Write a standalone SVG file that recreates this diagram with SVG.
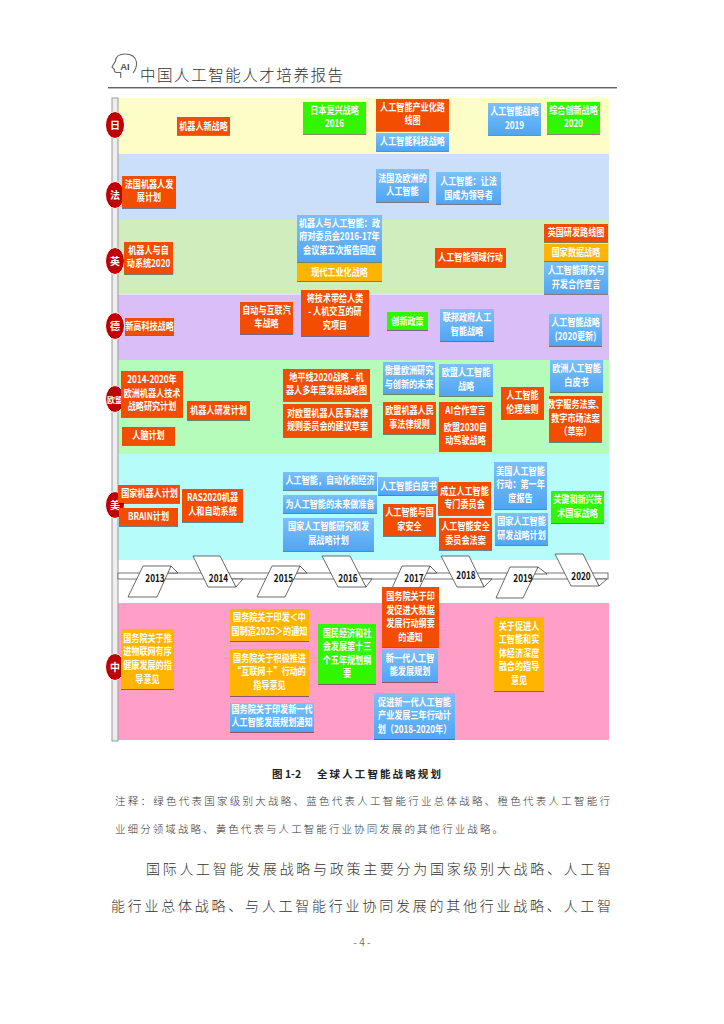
<svg xmlns="http://www.w3.org/2000/svg" width="724" height="1024" viewBox="0 0 724 1024">
<style>
text{font-family:"Noto Sans CJK SC","Noto Sans",sans-serif}
.o{fill:#F24E00}.g{fill:#33F500}.y{fill:#FFB500}.l{fill:url(#blue)}
.o,.g,.y,.l{filter:url(#s)}
.t{fill:#fff;font-size:10.400px;font-weight:700;text-anchor:middle}
.c{fill:#C00000;stroke:#fff;stroke-width:1}
.ct{fill:#fff;font-size:10px;font-weight:700;text-anchor:middle}
.p{fill:#fff;stroke:#444;stroke-width:.8}
.yr{fill:#111;font-size:10.500px;font-weight:700;text-anchor:middle}
.k{fill:#333;font-weight:300}
</style>
<defs>
<linearGradient id="blue" x1="0" y1="0" x2="0" y2="1"><stop offset="0" stop-color="#7CC0F8"/><stop offset="1" stop-color="#50A5F4"/></linearGradient>
<filter id="s" x="-10%" y="-10%" width="120%" height="130%"><feDropShadow dx="0" dy="1" stdDeviation=".6" flood-color="#000" flood-opacity=".45"/></filter>
</defs>
<rect width="724" height="1024" fill="#fff"/>

<g id="header">
<path d="M120.700 78V72.500H116Q113.500 71 114.500 69.500L112 67L115.500 61Q116 54 125 54Q135 54 136.500 62Q137 68 133 73" fill="none" stroke="#666" stroke-width="1.100"/>
<text x="125" y="69.500" font-size="9.500" font-weight="700" fill="#555" text-anchor="middle" style="font-family:'Liberation Sans',sans-serif">AI</text>
<text class="k" x="140" y="81" font-size="15.500" textLength="203">中国人工智能人才培养报告</text>
<rect x="108" y="87.300" width="509" height="1" fill="#222"/>
</g>

<g id="bands">
<rect x="118" y="98" width="491" height="56" fill="#FDFDC8"/>
<rect x="118" y="154" width="491" height="66" fill="#CCDFFA"/>
<rect x="118" y="220" width="491" height="74" fill="#CFEDBD"/>
<rect x="118" y="294.500" width="491" height="65.500" fill="#D9BEF8"/>
<rect x="118" y="360" width="491" height="94" fill="#B5FBB9"/>
<rect x="118" y="454" width="491" height="106" fill="#B5FCFA"/>
<rect x="118" y="603" width="491" height="137" fill="#FF9EC7"/>
<rect x="112" y="98" width="6" height="643" fill="#EEE" stroke="#999" stroke-width="1"/>
</g>

<g id="timeline">
<rect x="118" y="573" width="490" height="6" fill="#fff" stroke="#555" stroke-width=".8"/>
<g id="y2013"><path class="p" d="M171 566L178 573H165Z"/><path class="p" d="M143 566H171L157 597H128Z"/><text class="yr" transform="matrix(.78 0 0 1 155 582)">2013</text></g>
<g id="y2014"><path class="p" d="M236 587L243 579H231Z"/><path class="p" d="M193 556H220L236 587H208Z"/><text class="yr" transform="matrix(.78 0 0 1 218.500 582)">2014</text></g>
<g id="y2015"><path class="p" d="M300 566L307 573H294Z"/><path class="p" d="M272 566H300L285 597H257Z"/><text class="yr" transform="matrix(.78 0 0 1 283.500 582)">2015</text></g>
<g id="y2016"><path class="p" d="M366 587L372 579H361Z"/><path class="p" d="M322 556H350L366 587H338Z"/><text class="yr" transform="matrix(.78 0 0 1 348 582)">2016</text></g>
<g id="y2017"><path class="p" d="M430 566L437 573H424Z"/><path class="p" d="M402 566H430L415 597H388Z"/><text class="yr" transform="matrix(.78 0 0 1 414 582)">2017</text></g>
<g id="y2018"><path class="p" d="M484 587L492 579H480Z"/><path class="p" d="M441 556H469L484 587H457Z"/><text class="yr" transform="matrix(.78 0 0 1 466 579)">2018</text></g>
<g id="y2019"><path class="p" d="M538 567L547 574H533Z"/><path class="p" d="M510 567H538L523 598H496Z"/><text class="yr" transform="matrix(.78 0 0 1 523 582)">2019</text></g>
<g id="y2020"><path class="p" d="M599 586L607 579H595Z"/><path class="p" d="M555 554H583L599 586H571Z"/><text class="yr" transform="matrix(.78 0 0 1 581 580)">2020</text></g>
</g>

<g id="country-labels">
<g id="c-jp"><ellipse class="c" cx="115" cy="125" rx="9.500" ry="13.500"/><text class="ct" x="115" y="129">日</text></g>
<g id="c-fr"><ellipse class="c" cx="115" cy="195" rx="9.500" ry="13.500"/><text class="ct" x="115" y="199">法</text></g>
<g id="c-uk"><ellipse class="c" cx="115" cy="261" rx="9.500" ry="13.500"/><text class="ct" x="115" y="265">英</text></g>
<g id="c-de"><ellipse class="c" cx="115" cy="326" rx="9.500" ry="13.500"/><text class="ct" x="115" y="330">德</text></g>
<g id="c-eu"><ellipse class="c" cx="115" cy="399" rx="9.500" ry="13.500"/><text class="ct" x="115" y="403" style="font-size:8px">欧盟</text></g>
<g id="c-us"><ellipse class="c" cx="115" cy="505" rx="9.500" ry="13.500"/><text class="ct" x="115" y="509">美</text></g>
<g id="c-cn"><ellipse class="c" cx="115" cy="667" rx="9.500" ry="13.500"/><text class="ct" x="115" y="671">中</text></g>
</g>

<g id="n-jp">
<g id="jp1"><rect class="o" x="177" y="117" width="53" height="18"/><text class="t" transform="matrix(.78 0 0 1 203.500 0)"><tspan x="0" y="129.700">机器人新战略</tspan></text></g>
<g id="jp2"><rect class="g" x="303" y="102" width="63" height="32"/><text class="t" transform="matrix(.78 0 0 1 334.500 0)"><tspan x="0" y="114">日本复兴战略</tspan><tspan x="0" y="127.500">2016</tspan></text></g>
<g id="jp3"><rect class="o" x="376" y="99" width="73" height="32"/><text class="t" transform="matrix(.78 0 0 1 412.500 0)"><tspan x="0" y="111">人工智能产业化路</tspan><tspan x="0" y="124.500">线图</tspan></text></g>
<g id="jp4"><rect class="l" x="376" y="133" width="73" height="18"/><text class="t" transform="matrix(.78 0 0 1 412.500 0)"><tspan x="0" y="145.500">人工智能科技战略</tspan></text></g>
<g id="jp5"><rect class="l" x="488" y="103" width="53" height="32"/><text class="t" transform="matrix(.78 0 0 1 514.500 0)"><tspan x="0" y="115">人工智能战略</tspan><tspan x="0" y="129">2019</tspan></text></g>
<g id="jp6"><rect class="g" x="547" y="102" width="53" height="32"/><text class="t" transform="matrix(.78 0 0 1 573.500 0)"><tspan x="0" y="114">综合创新战略</tspan><tspan x="0" y="127.500">2020</tspan></text></g>
</g>

<g id="n-fr">
<g id="fr1"><rect class="o" x="122" y="176" width="54" height="32"/><text class="t" transform="matrix(.78 0 0 1 149 0)"><tspan x="0" y="188">法国机器人发</tspan><tspan x="0" y="201.500">展计划</tspan></text></g>
<g id="fr2"><rect class="l" x="376" y="169" width="53" height="33"/><text class="t" transform="matrix(.78 0 0 1 402.500 0)"><tspan x="0" y="182">法国及欧洲的</tspan><tspan x="0" y="195.500">人工智能</tspan></text></g>
<g id="fr3"><rect class="l" x="436" y="172" width="65" height="32"/><text class="t" transform="matrix(.78 0 0 1 468.500 0)"><tspan x="0" y="185">人工智能：让法</tspan><tspan x="0" y="199">国成为领导者</tspan></text></g>
</g>

<g id="n-uk">
<g id="uk1"><rect class="o" x="124" y="242" width="49" height="32"/><text class="t" transform="matrix(.78 0 0 1 148.500 0)"><tspan x="0" y="254">机器人与自</tspan><tspan x="0" y="267.500">动系统2020</tspan></text></g>
<g id="uk2"><rect class="l" x="297" y="215" width="85" height="47"/><text class="t" transform="matrix(.78 0 0 1 339.500 0)"><tspan x="0" y="227">机器人与人工智能：政</tspan><tspan x="0" y="240.500">府对委员会2016-17年</tspan><tspan x="0" y="254">会议第五次报告回应</tspan></text></g>
<g id="uk3"><rect class="y" x="297" y="263" width="85" height="18"/><text class="t" transform="matrix(.78 0 0 1 339.500 0)"><tspan x="0" y="275.700">现代工业化战略</tspan></text></g>
<g id="uk4"><rect class="o" x="435" y="248" width="71" height="19"/><text class="t" transform="matrix(.78 0 0 1 470.500 0)"><tspan x="0" y="261">人工智能领域行动</tspan></text></g>
<g id="uk5"><rect class="o" x="544" y="224" width="64" height="18"/><text class="t" transform="matrix(.78 0 0 1 576 0)"><tspan x="0" y="236.500">英国研发路线图</tspan></text></g>
<g id="uk6"><rect class="y" x="544" y="244" width="64" height="17"/><text class="t" transform="matrix(.78 0 0 1 576 0)"><tspan x="0" y="256.500">国家数据战略</tspan></text></g>
<g id="uk7"><rect class="l" x="544" y="262" width="64" height="32"/><text class="t" transform="matrix(.78 0 0 1 576 0)"><tspan x="0" y="274.500">人工智能研究与</tspan><tspan x="0" y="288">开发合作宣言</tspan></text></g>
</g>

<g id="n-de">
<g id="de1"><rect class="o" x="125" y="318" width="49" height="17"/><text class="t" transform="matrix(.78 0 0 1 149.500 0)"><tspan x="0" y="330.200">新高科技战略</tspan></text></g>
<g id="de2"><rect class="o" x="240" y="302" width="53" height="32"/><text class="t" transform="matrix(.78 0 0 1 266.500 0)"><tspan x="0" y="314">自动与互联汽</tspan><tspan x="0" y="327.500">车战略</tspan></text></g>
<g id="de3"><rect class="o" x="301" y="290" width="68" height="46"/><text class="t" transform="matrix(.78 0 0 1 335 0)"><tspan x="0" y="302">将技术带给人类</tspan><tspan x="0" y="315.500">- 人机交互的研</tspan><tspan x="0" y="329">究项目</tspan></text></g>
<g id="de4"><rect class="g" x="387" y="312" width="41" height="18"/><text class="t" transform="matrix(.78 0 0 1 407.500 0)"><tspan x="0" y="324.700">创新政策</tspan></text></g>
<g id="de5"><rect class="l" x="440" y="309" width="54" height="32"/><text class="t" transform="matrix(.78 0 0 1 467 0)"><tspan x="0" y="321.500">联邦政府人工</tspan><tspan x="0" y="335">智能战略</tspan></text></g>
<g id="de6"><rect class="l" x="549" y="314" width="53" height="32"/><text class="t" transform="matrix(.78 0 0 1 575.500 0)"><tspan x="0" y="326.500">人工智能战略</tspan><tspan x="0" y="340">(2020更新)</tspan></text></g>
</g>

<g id="n-eu">
<g id="eu1"><rect class="o" x="121" y="371" width="62" height="46"/><text class="t" transform="matrix(.78 0 0 1 152 0)"><tspan x="0" y="383">2014-2020年</tspan><tspan x="0" y="397">欧洲机器人技术</tspan><tspan x="0" y="410.500">战略研究计划</tspan></text></g>
<g id="eu2"><rect class="o" x="122" y="427" width="53" height="18"/><text class="t" transform="matrix(.78 0 0 1 148.500 0)"><tspan x="0" y="439.500">人脑计划</tspan></text></g>
<g id="eu3"><rect class="o" x="187" y="401" width="63" height="19"/><text class="t" transform="matrix(.78 0 0 1 218.500 0)"><tspan x="0" y="414">机器人研发计划</tspan></text></g>
<g id="eu4"><rect class="o" x="283" y="369" width="87" height="32"/><text class="t" transform="matrix(.78 0 0 1 326.500 0)"><tspan x="0" y="381">地平线2020战略 - 机</tspan><tspan x="0" y="394.500">器人多年度发展战略图</tspan></text></g>
<g id="eu5"><rect class="o" x="283" y="404" width="89" height="33"/><text class="t" transform="matrix(.78 0 0 1 327.500 0)"><tspan x="0" y="417">对欧盟机器人民事法律</tspan><tspan x="0" y="430.500">规则委员会的建议草案</tspan></text></g>
<g id="eu6"><rect class="l" x="383" y="362" width="52" height="32"/><text class="t" transform="matrix(.78 0 0 1 409 0)"><tspan x="0" y="374.500">衡量欧洲研究</tspan><tspan x="0" y="388">与创新的未来</tspan></text></g>
<g id="eu7"><rect class="l" x="439" y="364" width="54" height="32"/><text class="t" transform="matrix(.78 0 0 1 466 0)"><tspan x="0" y="376.500">欧盟人工智能</tspan><tspan x="0" y="390">战略</tspan></text></g>
<g id="eu8"><rect class="o" x="383" y="402" width="53" height="32"/><text class="t" transform="matrix(.78 0 0 1 409.500 0)"><tspan x="0" y="414.500">欧盟机器人民</tspan><tspan x="0" y="428">事法律规则</tspan></text></g>
<g id="eu9"><rect class="o" x="439" y="402" width="53" height="18"/><text class="t" transform="matrix(.78 0 0 1 465.500 0)"><tspan x="0" y="414">AI合作宣言</tspan></text></g>
<g id="eu10"><rect class="o" x="439" y="418" width="53" height="33"/><text class="t" transform="matrix(.78 0 0 1 465.500 0)"><tspan x="0" y="431">欧盟2030自</tspan><tspan x="0" y="444.500">动驾驶战略</tspan></text></g>
<g id="eu11"><rect class="o" x="501" y="387" width="43" height="32"/><text class="t" transform="matrix(.78 0 0 1 522.500 0)"><tspan x="0" y="399.500">人工智能</tspan><tspan x="0" y="413">伦理准则</tspan></text></g>
<g id="eu12"><rect class="l" x="550" y="360" width="53" height="32"/><text class="t" transform="matrix(.78 0 0 1 576.500 0)"><tspan x="0" y="372.500">欧洲人工智能</tspan><tspan x="0" y="386">白皮书</tspan></text></g>
<g id="eu13"><rect class="o" x="549" y="396" width="53" height="46"/><text class="t" transform="matrix(.78 0 0 1 575.500 0)"><tspan x="0" y="408.500">数字服务法案、</tspan><tspan x="0" y="422">数字市场法案</tspan><tspan x="0" y="435.500">（草案）</tspan></text></g>
</g>

<g id="n-us">
<g id="us1"><rect class="o" x="118" y="485" width="62" height="18"/><text class="t" transform="matrix(.78 0 0 1 149.500 0)"><tspan x="0" y="497.500">国家机器人计划</tspan></text></g>
<g id="us2"><rect class="o" x="119" y="508" width="59" height="18"/><text class="t" transform="matrix(.78 0 0 1 148.500 0)"><tspan x="0" y="520.500">BRAIN计划</tspan></text></g>
<g id="us3"><rect class="o" x="182" y="489" width="61" height="33"/><text class="t" transform="matrix(.78 0 0 1 212.500 0)"><tspan x="0" y="501.500">RAS2020机器</tspan><tspan x="0" y="515">人和自助系统</tspan></text></g>
<g id="us4"><rect class="l" x="283" y="472" width="94" height="18"/><text class="t" transform="matrix(.78 0 0 1 330 0)"><tspan x="0" y="484.500">人工智能，自动化和经济</tspan></text></g>
<g id="us5"><rect class="l" x="283" y="495" width="94" height="18"/><text class="t" transform="matrix(.78 0 0 1 330 0)"><tspan x="0" y="507.700">为人工智能的未来做准备</tspan></text></g>
<g id="us6"><rect class="l" x="283" y="518" width="91" height="33"/><text class="t" transform="matrix(.78 0 0 1 328.500 0)"><tspan x="0" y="530.500">国家人工智能研究和发</tspan><tspan x="0" y="544">展战略计划</tspan></text></g>
<g id="us7"><rect class="l" x="378" y="477" width="61" height="18"/><text class="t" transform="matrix(.78 0 0 1 408.500 0)"><tspan x="0" y="490">人工智能白皮书</tspan></text></g>
<g id="us8"><rect class="o" x="383" y="504" width="53" height="32"/><text class="t" transform="matrix(.78 0 0 1 409.500 0)"><tspan x="0" y="516.500">人工智能与国</tspan><tspan x="0" y="530">家安全</tspan></text></g>
<g id="us9"><rect class="o" x="438" y="482" width="53" height="33"/><text class="t" transform="matrix(.78 0 0 1 464.500 0)"><tspan x="0" y="495">成立人工智能</tspan><tspan x="0" y="508.500">专门委员会</tspan></text></g>
<g id="us10"><rect class="o" x="439" y="518" width="53" height="32"/><text class="t" transform="matrix(.78 0 0 1 465.500 0)"><tspan x="0" y="530.500">人工智能安全</tspan><tspan x="0" y="544">委员会法案</tspan></text></g>
<g id="us11"><rect class="l" x="494" y="462" width="53" height="47"/><text class="t" transform="matrix(.78 0 0 1 520.500 0)"><tspan x="0" y="475">美国人工智能</tspan><tspan x="0" y="488.500">行动：第一年</tspan><tspan x="0" y="502">度报告</tspan></text></g>
<g id="us12"><rect class="l" x="495" y="513" width="53" height="32"/><text class="t" transform="matrix(.78 0 0 1 521.500 0)"><tspan x="0" y="525.500">国家人工智能</tspan><tspan x="0" y="539">研发战略计划</tspan></text></g>
<g id="us13"><rect class="g" x="551" y="491" width="53" height="32"/><text class="t" transform="matrix(.78 0 0 1 577.500 0)"><tspan x="0" y="503.500">关键和新兴技</tspan><tspan x="0" y="517">术国家战略</tspan></text></g>
</g>

<g id="n-cn">
<g id="cn1"><rect class="y" x="121" y="629" width="53" height="60"/><text class="t" transform="matrix(.78 0 0 1 147.500 0)"><tspan x="0" y="642">国务院关于推</tspan><tspan x="0" y="655.500">进物联网有序</tspan><tspan x="0" y="669">健康发展的指</tspan><tspan x="0" y="682.500">导意见</tspan></text></g>
<g id="cn2"><rect class="y" x="230" y="609" width="79" height="32"/><text class="t" transform="matrix(.78 0 0 1 269.500 0)"><tspan x="0" y="621.500">国务院关于印发＜中</tspan><tspan x="0" y="635">国制造2025＞的通知</tspan></text></g>
<g id="cn3"><rect class="y" x="230" y="649" width="79" height="47"/><text class="t" transform="matrix(.78 0 0 1 269.500 0)"><tspan x="0" y="662">国务院关于积极推进</tspan><tspan x="0" y="675.500">“互联网＋”行动的</tspan><tspan x="0" y="689">指导意见</tspan></text></g>
<g id="cn4"><rect class="l" x="230" y="703" width="84" height="29"/><text class="t" transform="matrix(.78 0 0 1 272 0)"><tspan x="0" y="713">国务院关于印发新一代</tspan><tspan x="0" y="726.500">人工智能发展规划通知</tspan></text></g>
<g id="cn5"><rect class="g" x="318" y="624" width="58" height="60"/><text class="t" transform="matrix(.78 0 0 1 347 0)"><tspan x="0" y="637">国民经济和社</tspan><tspan x="0" y="650.500">会发展第十三</tspan><tspan x="0" y="664">个五年规划纲</tspan><tspan x="0" y="677.500">要</tspan></text></g>
<g id="cn6"><rect class="o" x="382" y="587" width="57" height="60"/><text class="t" transform="matrix(.78 0 0 1 410.500 0)"><tspan x="0" y="600">国务院关于印</tspan><tspan x="0" y="614">发促进大数据</tspan><tspan x="0" y="627.500">发展行动纲要</tspan><tspan x="0" y="641">的通知</tspan></text></g>
<g id="cn7"><rect class="l" x="382" y="649" width="56" height="33"/><text class="t" transform="matrix(.78 0 0 1 410 0)"><tspan x="0" y="662">新一代人工智</tspan><tspan x="0" y="675.500">能发展规划</tspan></text></g>
<g id="cn8"><rect class="l" x="374" y="693" width="81" height="46"/><text class="t" transform="matrix(.78 0 0 1 414.500 0)"><tspan x="0" y="706">促进新一代人工智能</tspan><tspan x="0" y="719.500">产业发展三年行动计</tspan><tspan x="0" y="733">划（2018-2020年）</tspan></text></g>
<g id="cn9"><rect class="y" x="494" y="617" width="50" height="74"/><text class="t" transform="matrix(.78 0 0 1 519 0)"><tspan x="0" y="630">关于促进人</tspan><tspan x="0" y="643.500">工智能和实</tspan><tspan x="0" y="657">体经济深度</tspan><tspan x="0" y="670.500">融合的指导</tspan><tspan x="0" y="684">意见</tspan></text></g>
</g>

<g id="caption">
<text x="272" y="778" font-size="10.500" font-weight="700" fill="#222"><tspan>图 1-2</tspan><tspan x="317" letter-spacing="2.100">全球人工智能战略规划</tspan></text>
<text class="k" x="115" y="805" font-size="10.500" textLength="495">注释：绿色代表国家级别大战略、蓝色代表人工智能行业总体战略、橙色代表人工智能行</text>
<text class="k" x="115" y="833" font-size="10.500" textLength="388">业细分领域战略、黄色代表与人工智能行业协同发展的其他行业战略。</text>
<text class="k" x="146" y="874" font-size="14" textLength="465">国际人工智能发展战略与政策主要分为国家级别大战略、人工智</text>
<text class="k" x="111" y="911" font-size="14" textLength="500">能行业总体战略、与人工智能行业协同发展的其他行业战略、人工智</text>
<text class="k" x="362" y="946" font-size="10.500" text-anchor="middle">- 4 -</text>
</g>
</svg>
